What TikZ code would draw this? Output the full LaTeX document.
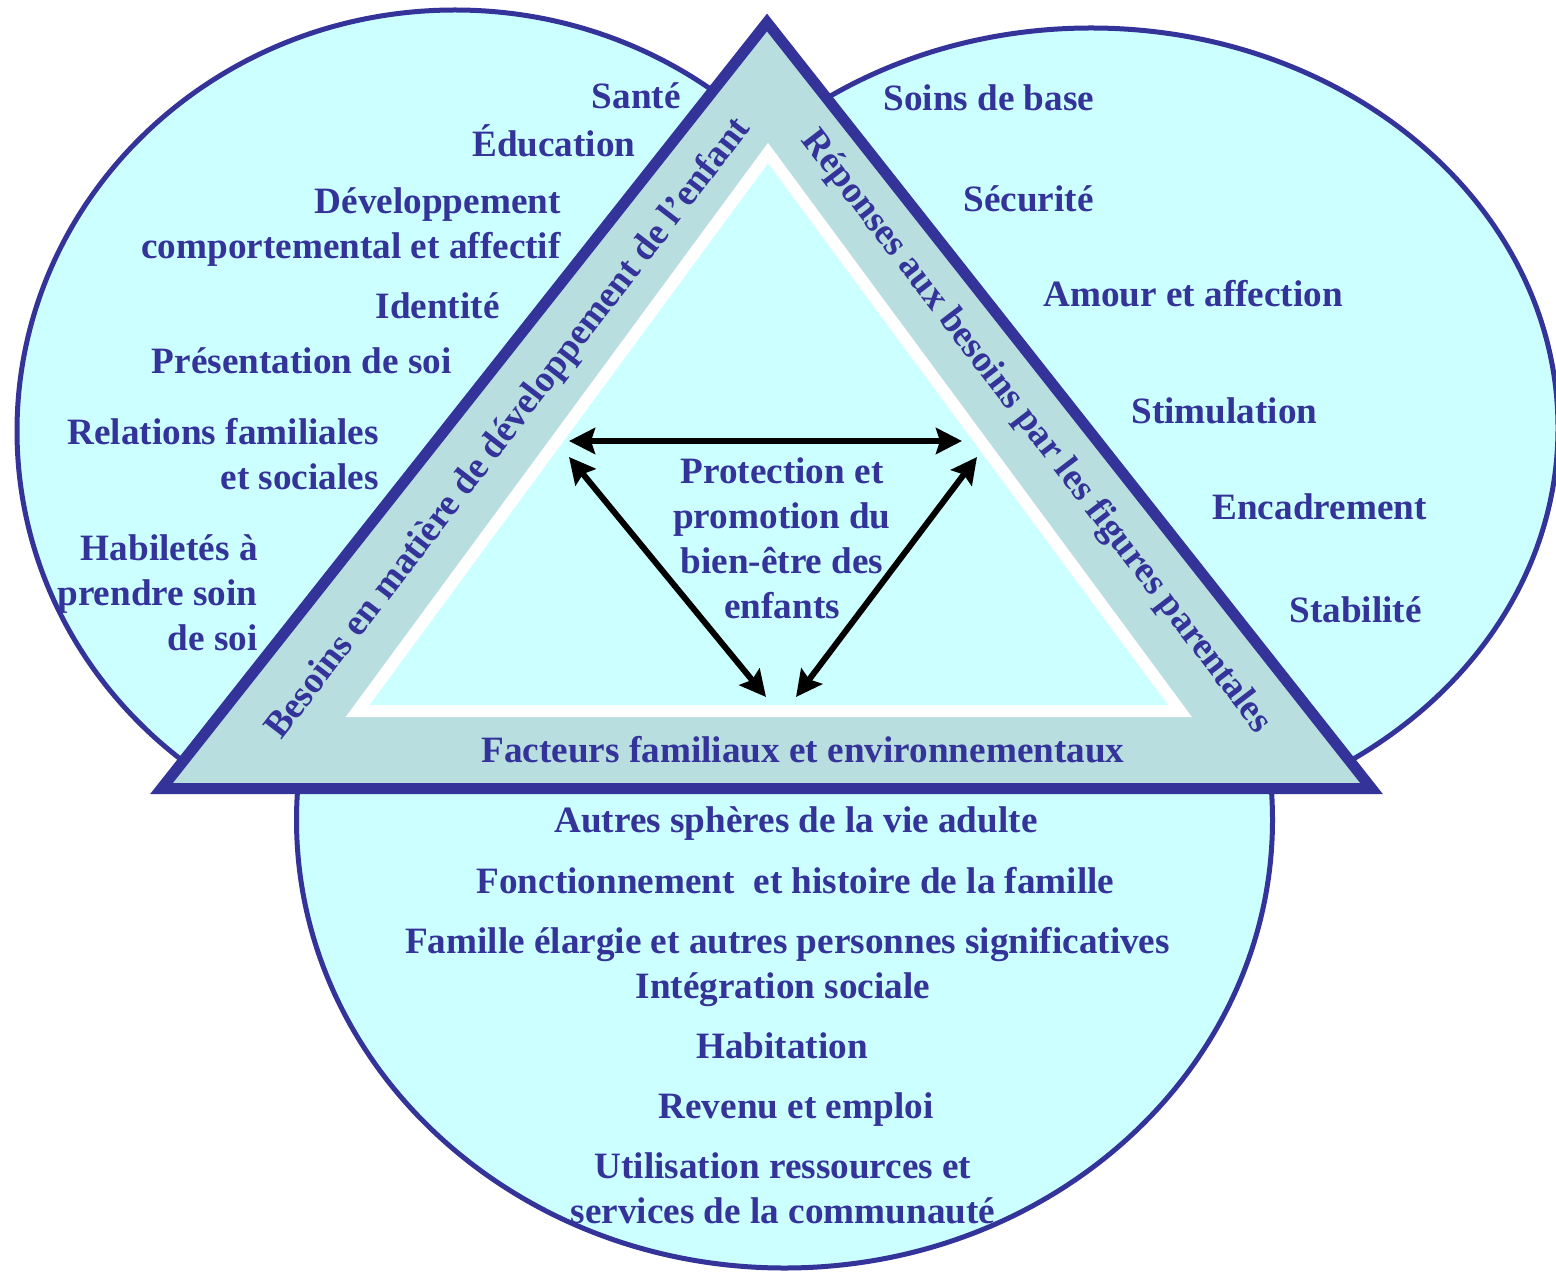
\documentclass[tikz,border=0pt]{standalone}
\usepackage{fontspec}
\setmainfont{Liberation Serif}
\usetikzlibrary{arrows.meta}

\definecolor{navy}{RGB}{51,51,153}
\definecolor{aqua}{RGB}{204,255,255}
\definecolor{band}{RGB}{185,222,224}

\tikzset{
  bubble/.style={draw=navy, fill=aqua, line width=2.5pt},
  lbl/.style={text=navy, font=\fontsize{18.6}{22.5}\selectfont\bfseries, inner sep=0pt},
  link/.style={line width=3pt, {Stealth[length=13pt,width=13pt,inset=2pt]}-{Stealth[length=13pt,width=13pt,inset=2pt]}}
}

\begin{document}
\begin{tikzpicture}[x=0.5pt, y=-0.5pt]
\useasboundingbox (0,0) rectangle (1556,1272);
% the three ovals
\begin{scope}
  \clip (0,0) rectangle (1556,788);
  \draw [bubble] (455,431) ellipse [x radius=219pt, y radius=210.5pt];
  \draw [bubble] (1091,428) ellipse [x radius=233.5pt, y radius=200pt];
\end{scope}
\draw [bubble] (784.5,820) ellipse [x radius=244pt, y radius=224pt];
% triangle and inner triangle
\draw [draw=navy, fill=band, line width=5.5pt] (767,22.5) -- (161.5,788.5) -- (1371.5,788.5) -- cycle;
\draw [draw=white, fill=aqua, line width=6pt] (768,153) -- (357.5,711) -- (1180,711) -- cycle;
% sides of the triangle
\node[lbl, rotate=52.5] (besoins) at (509,429) {Besoins en matière de développement de l’enfant};
\node[lbl, rotate=-52.5] (reponses) at (1036,432) {Réponses aux besoins par les figures parentales};
\node[lbl, anchor=base] (facteurs) at (803,762) {Facteurs familiaux et environnementaux};
\node[lbl, align=center] (centre) at (782,538) {Protection et\\promotion du\\bien-être des\\enfants};
% left oval
\foreach \x/\y/\txt [count=\i] in {681/109/Santé, 636/157/Éducation, 500/319/Identité, 452/374/Présentation de soi} {
    \node[lbl, anchor=base east] (kid\i) at (\x,\y) {\txt};
}
\node[lbl, align=right, anchor=base east] (kid5) at (561,259) {Développement\\comportemental et affectif};
\node[lbl, align=right, anchor=base east] (kid6) at (379,489) {Relations familiales\\et sociales};
\node[lbl, align=right, anchor=base east] (kid7) at (258,650) {Habiletés à\\prendre soin\\de soi};
% right oval
\foreach \x/\y/\txt [count=\i] in {883/111/Soins de base, 963/212/Sécurité, 1043/307/Amour et affection, 1131/423/Stimulation, 1212/519/Encadrement, 1289/622/Stabilité} {
    \node[lbl, anchor=base west] (par\i) at (\x,\y) {\txt};
}
% bottom oval
\foreach \x/\y/\txt [count=\i] in {796/832/Autres sphères de la vie adulte, 795.5/893/Fonctionnement\ \ et histoire de la famille, 787.5/953/Famille élargie et autres personnes significatives, 783/998/Intégration sociale, 782/1058/Habitation, 796/1118/Revenu et emploi} {
    \node[lbl, anchor=base] (env\i) at (\x,\y) {\txt};
}
\node[lbl, align=center, anchor=base] (env7) at (783,1223) {Utilisation ressources et\\services de la communauté};
% arrows
\coordinate (hl) at (569,441);
\coordinate (hr) at (962,441);
\coordinate (ul) at (569,457);
\coordinate (ll) at (766,697);
\coordinate (ur) at (977,457);
\coordinate (lr) at (796,697);
\draw [link] (hl) -- (hr);
\draw [link] (ul) -- (ll);
\draw [link] (ur) -- (lr);
\end{tikzpicture}
\end{document}
